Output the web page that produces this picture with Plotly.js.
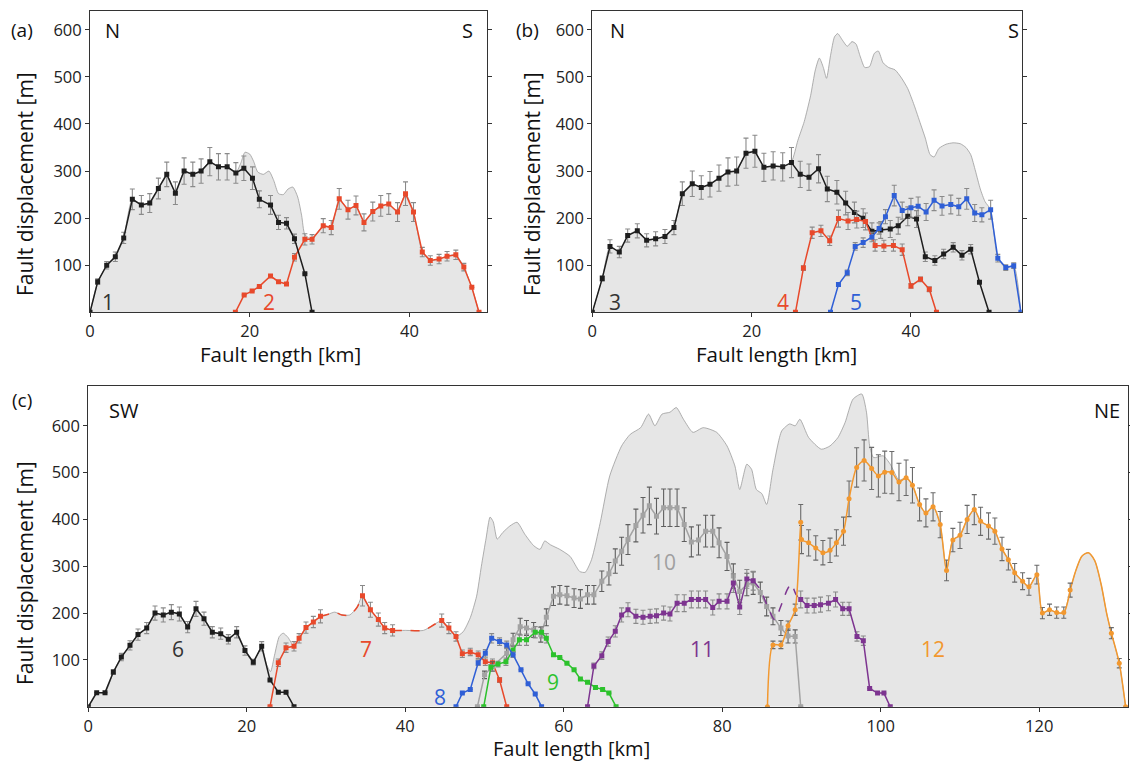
<!DOCTYPE html>
<html><head><meta charset="utf-8">
<script src="https://cdn.plot.ly/plotly-3.0.1.min.js"></script>
<style>html,body{margin:0;padding:0;background:#fff}#chart{width:1130px;height:763px}</style>
</head><body><div id="chart"></div>
<script>
// ---------- Panel (a) ----------
const envA = [[0,0],[1.0,65],[2.1,100],[3.2,118],[4.2,158],[5.3,240],[6.4,228],[7.5,232],[8.6,263],[9.6,293],[10.7,253],[11.8,300],[12.9,293],[13.9,300],[15.0,320],[16.1,309],[17.2,309],[18.3,298],[18.9,318],[19.4,340],[20.0,336],[20.5,320],[21.0,298],[21.7,293],[22.4,300],[23.0,280],[23.6,252],[24.2,250],[24.8,262],[25.4,266],[26.0,245],[26.5,205],[26.9,165],[27.8,155],[29.2,184],[30.2,180],[31.2,241],[32.3,218],[33.3,227],[34.3,191],[35.4,214],[36.4,226],[37.4,230],[38.5,213],[39.5,252],[40.5,213],[41.6,128],[42.6,110],[43.7,113],[44.7,119],[45.8,122],[46.8,96],[47.8,53],[48.7,0]];
const x1 = [0,0.96,2.09,3.17,4.22,5.30,6.43,7.48,8.56,9.61,10.69,11.78,12.87,13.91,15.00,16.08,17.17,18.26,19.26,20.34,21.2,22.6,23.6,24.6,25.6,26.9,27.8];
const y1 = [0,65,100,118,158,240,228,232,263,293,253,300,293,300,320,309,309,296,306,285,240,228,191,189,156,82,0];
const e1 = [0,6,8,10,12,22,20,20,22,26,24,28,26,26,30,28,28,22,26,24,18,20,15,12,10,0,0];
const x2 = [18.2,19.3,20.3,21.2,22.6,23.6,24.6,25.6,26.9,27.8,29.2,30.2,31.2,32.3,33.3,34.3,35.4,36.4,37.4,38.5,39.5,40.5,41.6,42.6,43.7,44.7,45.8,46.8,47.8,48.7];
const y2 = [0,37,45,55,77,65,60,117,155,155,184,180,241,218,227,191,214,226,230,213,252,213,128,110,113,119,122,96,53,0];
const e2 = [0,0,0,0,0,0,0,8,12,10,15,15,22,20,20,18,20,22,22,20,25,20,10,10,10,10,10,8,0,0];

// ---------- Panel (b) ----------
const envB = [[0,0],[1.25,72],[2.22,140],[3.39,128],[4.44,163],[5.65,173],[6.82,153],[7.95,156],[9.12,161],[10.25,180],[11.30,252],[12.55,273],[13.68,265],[14.77,272],[15.90,285],[17.03,298],[18.12,300],[19.29,338],[20.41,342],[21.54,308],[22.7,311],[23.9,309],[25.0,320],[25.8,365],[26.6,405],[27.4,460],[28.0,515],[28.5,540],[29.0,520],[29.4,497],[29.9,545],[30.4,585],[30.8,592],[31.4,578],[32.0,565],[32.6,575],[33.1,570],[33.6,545],[34.2,520],[34.8,522],[35.4,550],[35.9,555],[36.5,530],[37.2,520],[38.0,515],[38.8,498],[39.6,475],[40.4,440],[41.2,400],[41.8,370],[42.4,335],[42.9,330],[43.5,348],[44.4,357],[45.3,360],[46.2,358],[46.9,350],[47.5,335],[48.1,300],[48.7,262],[49.3,235],[50.0,218],[50.9,115],[51.9,95],[52.9,99],[53.8,0]];
const x3 = [0,1.25,2.22,3.39,4.44,5.65,6.82,7.95,9.12,10.25,11.30,12.55,13.68,14.77,15.90,17.03,18.12,19.29,20.41,21.54,22.7,23.9,25.0,26.1,27.2,28.4,29.5,30.7,31.8,32.9,34.0,35.1,36.2,37.4,38.4,39.6,40.7,41.8,43.0,44.1,45.3,46.4,47.5,48.6,49.8];
const y3 = [0,72,140,128,163,173,153,156,161,180,252,273,265,272,285,298,300,338,342,308,311,309,318,293,287,305,262,255,232,212,200,172,175,177,184,204,198,118,110,124,138,121,134,64,0];
const e3 = [0,6,14,12,14,15,14,15,15,15,25,27,25,27,28,30,30,32,34,30,30,30,32,28,28,30,27,25,25,22,20,18,18,18,18,20,18,10,10,10,10,10,10,0,0];
const x4 = [25.5,26.5,27.6,28.7,29.8,30.9,32.1,33.2,34.3,35.5,36.6,37.8,38.9,40.0,41.2,42.3,43.2];
const y4 = [0,94,169,173,152,199,194,197,193,142,141,142,133,56,70,49,0];
const e4 = [0,5,12,12,10,18,18,18,18,12,12,12,12,5,5,5,0];
const x5 = [29.9,30.9,32.0,33.0,34.0,35.1,36.0,36.8,37.9,38.9,40.0,40.9,41.9,42.9,43.9,45.0,46.0,47.0,48.0,48.9,50.0,50.9,51.9,52.9,53.8];
const y5 = [0,59,84,140,148,160,178,203,248,216,222,225,213,238,226,229,224,241,211,207,218,115,95,99,0];
const e5 = [0,4,6,8,10,10,12,15,22,18,20,20,18,22,20,20,18,22,18,15,20,8,6,6,0];

// ---------- Panel (c) ----------
const envC = [[0,0],[1.06,30],[2.11,30],[3.16,74],[4.17,106],[5.26,131],[6.27,154],[7.37,168],[8.42,200],[9.46,196],[10.48,202],[11.49,198],[12.54,170],[13.59,209],[14.60,188],[15.65,159],[16.71,156],[17.67,144],[18.72,159],[19.77,120],[20.82,95],[21.88,129],[22.5,90],[23.0,75],[23.5,110],[24.1,150],[24.6,157],[25.2,148],[25.96,129],[26.6,146],[27.47,169],[28.4,181],[29.3,193],[30.2,197],[31.1,202],[32.0,196],[33.0,196],[33.9,212],[34.6,237],[35.6,207],[36.6,186],[37.4,168],[38.4,163],[40.0,163],[42.3,163],[43.6,175],[44.6,184],[45.5,168],[46.4,150],[47.3,160],[48.2,190],[49.0,236],[49.6,300],[50.2,360],[50.7,405],[51.1,395],[51.6,358],[52.3,372],[53.2,386],[54.1,394],[55.1,368],[56.2,344],[57.0,336],[57.6,354],[58.3,346],[59.5,336],[60.8,321],[62.0,289],[62.7,287],[63.5,314],[64.6,393],[65.8,493],[67.3,557],[68.4,582],[69.7,596],[70.7,625],[71.5,600],[72.4,625],[73.4,629],[74.2,639],[75.1,614],[76.3,586],[77.6,596],[79.3,586],[80.6,557],[81.6,514],[82.2,464],[83.1,518],[83.7,507],[84.3,464],[85.0,455],[85.6,432],[86.4,507],[87.5,589],[88.5,604],[89.2,600],[89.8,614],[90.9,575],[92.5,550],[93.6,557],[94.6,575],[95.5,607],[96.5,657],[97.6,668],[98.2,629],[98.6,557],[99.1,532],[100.3,536],[101.2,518],[102.3,484],[103.2,489],[104.0,473],[104.9,432],[105.7,414],[106.6,427],[107.5,389],[108.3,291],[109.1,356],[110.0,366],[110.9,400],[111.8,421],[112.6,396],[113.6,386],[114.4,375],[115.3,337],[116.1,314],[116.9,286],[117.9,268],[118.7,256],[119.7,282],[120.4,200],[121.3,207],[122.2,201],[123.1,201],[123.9,249],[124.6,290],[125.4,322],[126.2,329],[127.0,312],[127.8,262],[128.5,200],[129.1,157],[130.1,93],[130.9,0]];
const x6 = [0,1.06,2.11,3.16,4.17,5.26,6.27,7.37,8.42,9.46,10.48,11.49,12.54,13.59,14.60,15.65,16.71,17.67,18.72,19.77,20.82,21.88,22.93,23.98,24.95,25.96];
const y6 = [0,30,30,74,106,131,154,168,200,196,202,198,170,209,188,159,156,144,159,120,95,129,57,31,31,0];
const e6 = [0,0,0,5,8,10,12,12,15,15,16,15,12,16,14,12,12,10,12,10,6,10,0,0,0,0];
const x7 = [22.93,23.98,24.95,25.96,26.6,27.47,28.4,29.3,null,34.6,35.6,36.6,37.4,38.4,null,44.6,45.5,46.4,47.2,48.2,49.2,50.1,51.0,51.9,52.8];
const y7 = [0,94,126,129,146,169,181,193,null,237,207,186,168,163,null,184,168,150,113,117,111,96,94,57,0];
const e7 = [0,8,10,10,10,12,12,14,null,22,16,14,12,12,null,14,12,10,8,8,8,8,8,5,0];
const x7d = [29.3,30.2,31.1,32.0,33.0,33.9,34.6,null,38.4,40.0,42.3,43.6,44.6];
const y7d = [193,197,202,196,196,212,237,null,163,163,163,175,184];
const x8 = [46.4,47.2,48.2,49.2,50.1,50.9,51.9,52.8,53.6,54.6,55.5,56.4,57.2];
const y8 = [0,29,37,94,114,146,139,132,111,79,49,27,0];
const e8 = [0,0,0,6,8,10,8,8,6,0,0,0,0];
const x9 = [49.9,50.8,51.7,52.7,53.6,54.4,55.3,56.4,57.2,57.8,58.7,59.5,60.4,61.3,62.1,63.0,64.0,64.9,65.7,66.6];
const y9 = [0,84,91,96,121,143,143,159,159,146,111,105,93,79,59,52,41,37,29,0];
const e9 = [0,6,6,8,10,12,12,12,12,10,0,0,0,0,0,0,0,0,0,0];
const x10 = [49.1,50.0,51.0,52.8,53.6,54.5,55.3,56.2,57.1,57.8,58.7,59.5,60.4,61.3,62.1,63.0,63.8,64.8,65.7,66.5,67.3,68.1,69.1,70.0,70.8,71.7,72.6,73.4,74.3,75.2,76.1,77.0,77.9,78.8,79.6,80.6,81.4,82.2,83.1,83.9,84.8,85.6,86.4,87.4,88.3,89.2,89.9];
const y10 = [0,68,86,114,143,171,168,164,154,191,236,239,237,232,230,239,239,268,284,311,332,357,387,409,429,407,425,425,425,389,352,356,375,375,350,321,279,246,261,264,244,214,193,168,151,150,0];
const e10 = [0,8,10,12,14,18,16,16,16,18,20,20,20,20,20,20,20,22,24,26,30,32,35,38,40,38,40,40,40,36,32,32,34,34,32,30,26,24,24,24,22,20,18,16,15,14,0];
const x11 = [63.0,63.8,64.8,65.6,66.5,67.3,68.1,69.1,70.0,70.9,71.7,72.6,73.4,74.3,75.2,76.1,77.0,77.9,78.8,79.6,80.6,81.4,82.2,83.1,83.9,null,89.9,90.7,91.6,92.4,93.4,94.3,95.2,96.0,97.0,97.8,98.6,99.6,100.4,101.2];
const y11 = [0,87,109,139,161,196,207,193,191,193,194,200,198,221,221,229,229,229,212,225,225,264,213,273,269,null,229,216,216,218,221,229,209,209,150,141,39,29,29,0];
const e11 = [0,6,8,10,12,15,15,15,15,15,15,15,15,18,18,18,18,18,16,16,16,20,16,20,20,null,18,16,16,16,16,16,14,14,10,10,0,0,0,0];
const x11d = [83.9,84.8,85.7,86.6,87.4,88.2,88.7,89.3,89.9];
const y11d = [269,250,215,186,215,250,262,240,229];
const x12 = [85.7,86.4,87.4,88.3,89.2,89.9,90.0,90.9,91.8,92.7,93.6,94.4,95.3,96.0,96.96,97.9,98.85,99.7,100.5,101.4,102.3,103.2,104.0,104.9,105.7,106.6,107.5,108.3,109.1,110.0,110.9,111.8,112.6,113.6,114.4,115.3,116.1,116.9,117.9,118.7,119.7,120.4,121.3,122.2,123.1,123.9,null,129.1,130.1,130.9];
const y12 = [0,132,132,173,207,394,357,350,339,329,334,350,375,444,511,526,509,493,501,500,480,489,473,432,414,427,389,291,356,366,400,421,396,386,375,337,314,286,268,256,282,200,207,201,201,249,null,157,93,0];
const e12 = [0,8,8,10,12,38,30,28,26,26,26,28,30,38,42,44,45,45,45,45,40,38,38,35,30,30,28,22,25,28,30,32,30,28,28,25,22,20,18,18,20,12,12,12,12,15,null,12,10,0];
const x12c = [123.9,124.6,125.4,126.2,127.0,127.8,128.5,129.1];
const y12c = [249,290,322,329,312,262,200,157];

const FONT = 'Open Sans, Noto Sans, sans-serif';
const C = {black:'#1e1e1e', red:'#e8492b', blue:'#2f5fd6', green:'#2cc22c', gray:'#a3a3a3', purple:'#7d3490', orange:'#f2982f'};

function env(pts, xa, ya) {
  return {type:'scatter', mode:'lines', x:pts.map(p=>p[0]), y:pts.map(p=>p[1]), xaxis:xa, yaxis:ya,
    fill:'tozeroy', fillcolor:'#e6e6e6', line:{color:'#9c9c9c', width:0.8, shape:'spline', smoothing:0.6}, hoverinfo:'skip'};
}
function ser(x, y, e, color, xa, ya, o) {
  o = o || {};
  return {type:'scatter', mode:'lines+markers', x, y, xaxis:xa, yaxis:ya, connectgaps:false,
    line:{color, width:1.5, shape:o.shape||'linear', smoothing:0.7},
    marker:{color, size:o.ms||5, symbol:o.sym||'square'},
    error_y:{type:'data', array:e.map(v=>v?v:null), visible:true, color:o.ec||'#8a8a8a', thickness:1.1, width:2.5},
    hoverinfo:'skip'};
}
function dash(x, y, color, xa, ya, d, shape) {
  return {type:'scatter', mode:'lines', x, y, xaxis:xa, yaxis:ya, connectgaps:false,
    line:{color, width:1.5, dash:d, shape:shape||'spline', smoothing:0.8}, hoverinfo:'skip'};
}

const data = [
  env(envA,'x','y'),
  ser(x2,y2,e2,C.red,'x','y'),
  ser(x1,y1,e1,C.black,'x','y'),
  env(envB,'x2','y2'),
  ser(x3,y3,e3,C.black,'x2','y2'),
  ser(x4,y4,e4,C.red,'x2','y2'),
  ser(x5,y5,e5,C.blue,'x2','y2'),
  env(envC,'x3','y3'),
  ser(x6,y6,e6,C.black,'x3','y3'),
  dash(x7d,y7d,C.red,'x3','y3','dash'),
  ser(x7,y7,e7,C.red,'x3','y3'),
  ser(x10,y10,e10,C.gray,'x3','y3',{ec:'#5e5e5e'}),
  ser(x9,y9,e9,C.green,'x3','y3'),
  ser(x8,y8,e8,C.blue,'x3','y3'),
  dash(x11d,y11d,C.purple,'x3','y3','dash'),
  ser(x11,y11,e11,C.purple,'x3','y3'),
  dash(x12c,y12c,C.orange,'x3','y3','solid'),
  ser(x12,y12,e12,C.orange,'x3','y3',{shape:'spline',sym:'circle',ms:5,ec:'#6a6a6a'})
];

function xax(dom, rng, tv, anchor) {
  return {domain:dom, range:rng, tickvals:tv, ticks:'outside', ticklen:4, tickcolor:'#333',
    showline:true, linecolor:'#333', linewidth:1, mirror:true, showgrid:false, zeroline:false,
    tickfont:{family:FONT, size:16.5, color:'#222'}, anchor, fixedrange:true};
}
function yax(dom, rng, anchor) {
  return {domain:dom, range:rng, tickvals:[100,200,300,400,500,600], ticks:'outside', ticklen:4, tickcolor:'#333',
    showline:true, linecolor:'#333', linewidth:1, mirror:'ticks', showgrid:false, zeroline:false,
    tickfont:{family:FONT, size:16.5, color:'#222'}, anchor, fixedrange:true};
}
const W = 1130, H = 763;
const px = v => v / W, py = v => 1 - v / H;

function txt(x, y, t, size, color, xref, yref, extra) {
  return Object.assign({x, y, text:t, xref:xref||'paper', yref:yref||'paper', showarrow:false,
    font:{family:FONT, size, color:color||'#111'}, xanchor:'center', yanchor:'middle'}, extra||{});
}

const annotations = [
  txt(px(22), py(30), '(a)', 19), txt(px(527), py(30), '(b)', 19), txt(px(22), py(400), '(c)', 19),
  txt(px(112), py(30), 'N', 20), txt(px(467), py(30), 'S', 20),
  txt(px(617), py(30), 'N', 20), txt(px(1013), py(30), 'S', 20),
  txt(px(124), py(410), 'SW', 20), txt(px(1107), py(410), 'NE', 20),
  txt(px(280), py(354), 'Fault length [km]', 20.5), txt(px(776), py(354), 'Fault length [km]', 20.5),
  txt(px(571), py(748), 'Fault length [km]', 20),
  txt(px(25), py(184), 'Fault displacement [m]', 21, '#111', 'paper', 'paper', {textangle:-90}),
  txt(px(532), py(184), 'Fault displacement [m]', 21, '#111', 'paper', 'paper', {textangle:-90}),
  txt(px(25), py(573), 'Fault displacement [m]', 21, '#111', 'paper', 'paper', {textangle:-90}),
  txt(2.3, 22, '1', 21, '#333', 'x', 'y'), txt(22.4, 22, '2', 21, C.red, 'x', 'y'),
  txt(2.8, 22, '3', 21, '#333', 'x2', 'y2'), txt(23.9, 22, '4', 21, C.red, 'x2', 'y2'), txt(33.1, 22, '5', 21, C.blue, 'x2', 'y2'),
  txt(11.3, 123, '6', 21, '#333', 'x3', 'y3'), txt(35.0, 123, '7', 21, C.red, 'x3', 'y3'),
  txt(44.4, 21, '8', 21, C.blue, 'x3', 'y3'), txt(58.6, 53, '9', 21, C.green, 'x3', 'y3'),
  txt(72.6, 310, '10', 21, '#a0a0a0', 'x3', 'y3'), txt(77.4, 123, '11', 21, C.purple, 'x3', 'y3'),
  txt(106.6, 123, '12', 21, C.orange, 'x3', 'y3')
];

const layout = {
  width:W, height:H, margin:{l:0, r:0, t:0, b:0}, showlegend:false,
  paper_bgcolor:'#fff', plot_bgcolor:'#fff', font:{family:FONT},
  xaxis: xax([px(90), px(487)], [0, 49.7], [0,20,40], 'y'),
  yaxis: yax([py(312.3), py(11)], [0, 640], 'x'),
  xaxis2: xax([px(592.3), px(1021.7)], [0, 53.9], [0,20,40], 'y2'),
  yaxis2: yax([py(312.3), py(11)], [0, 640], 'x2'),
  xaxis3: xax([px(88.3), px(1128)], [0, 131.2], [0,20,40,60,80,100,120], 'y3'),
  yaxis3: yax([py(706.7), py(386)], [0, 685], 'x3'),
  annotations
};
Plotly.newPlot('chart', data, layout, {staticPlot:true, displayModeBar:false});
</script></body></html>
